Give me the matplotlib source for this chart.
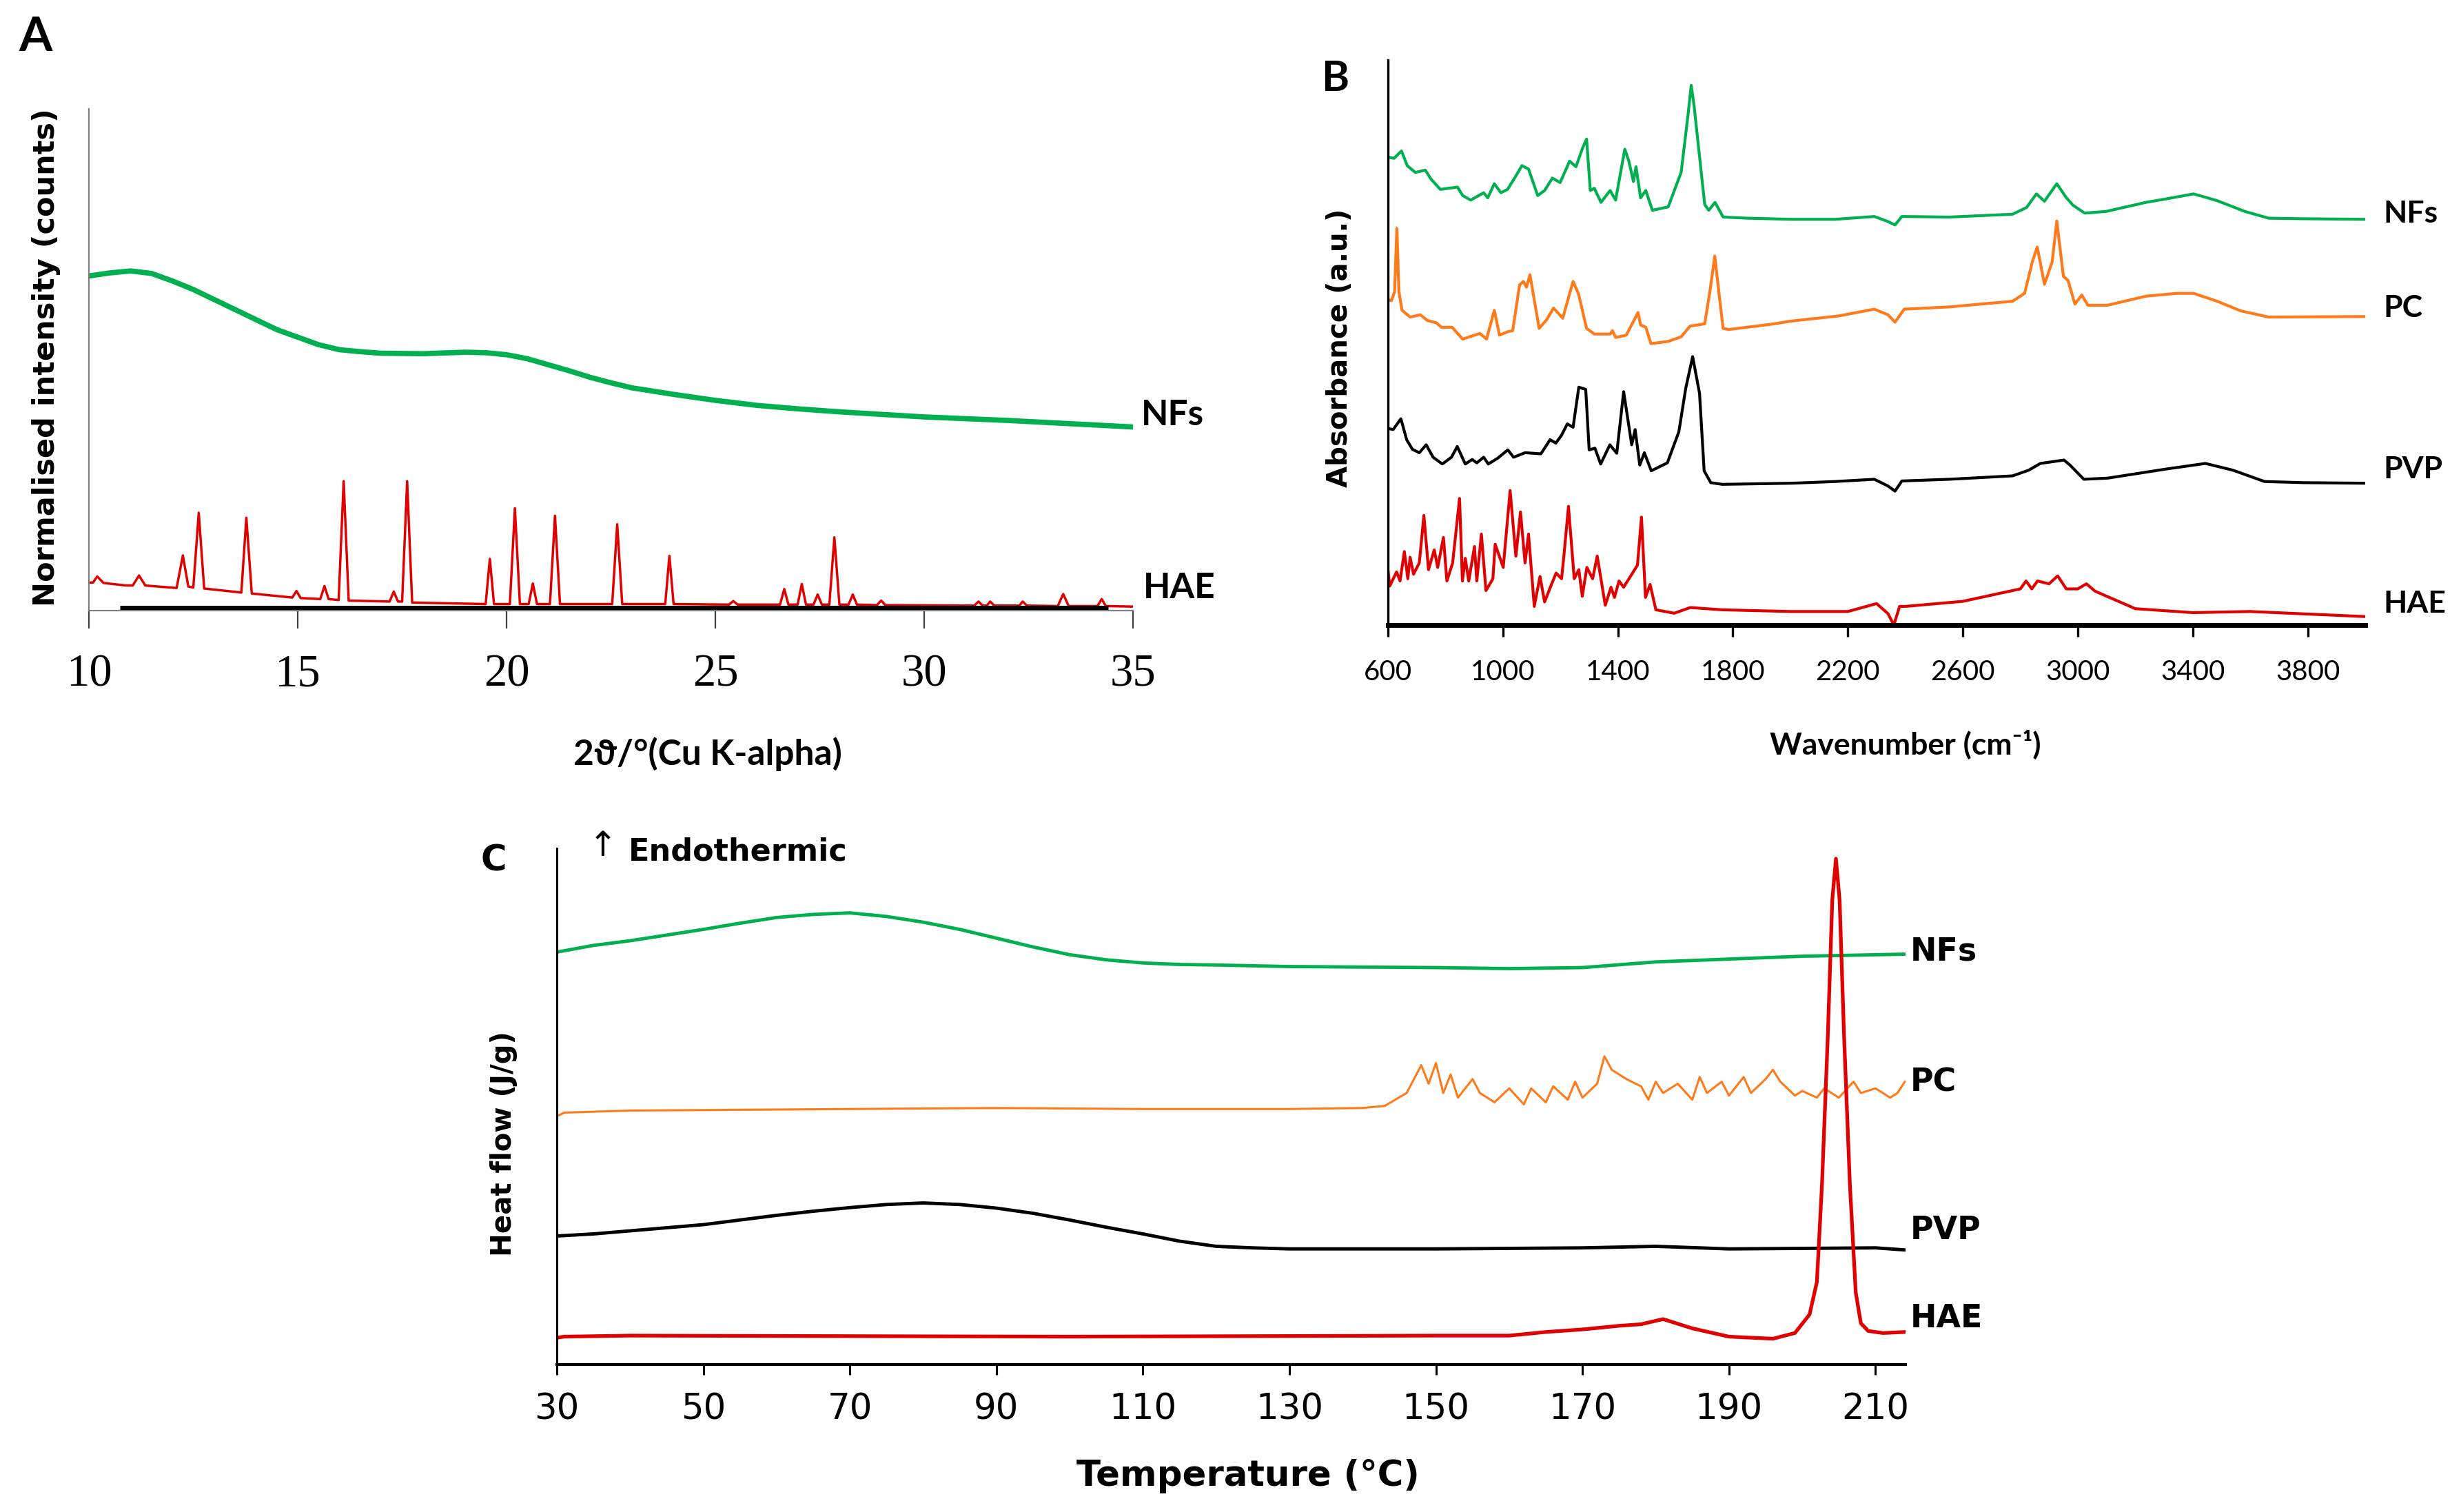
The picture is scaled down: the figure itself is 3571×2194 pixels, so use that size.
"""Three-panel figure: (A) XRD patterns, (B) FTIR spectra, (C) DSC thermograms."""
import matplotlib
matplotlib.use("Agg")
import matplotlib.pyplot as plt
from matplotlib import font_manager as fm

W, H = 3571, 2194

# ── fonts ─────────────────────────────────────────────────────────────────────
_names = {f.name for f in fm.fontManager.ttflist}
NARROW = "Liberation Sans Narrow" if "Liberation Sans Narrow" in _names else "Lato"
SERIF = "Liberation Serif"
LABEL = "DejaVu Sans"

COLORS = {
    "NFs": "#00AF50",
    "PC":  "#FF7A1A",
    "PVP": "#000000",
    "HAE": "#E10000",
}

# ── (A) XRD data: 2theta, normalised intensity (0-100 of axis height) ───────
XRD_NFS = [(10.0, 66.7), (10.5, 67.3), (11.0, 67.7), (11.5, 67.2), (12.0, 65.7),
           (12.5, 64.0), (13.0, 62.0), (13.5, 60.0), (14.0, 58.0), (14.5, 56.0),
           (15.0, 54.5), (15.5, 53.0), (16.0, 52.0), (16.5, 51.6), (17.0, 51.3),
           (18.0, 51.2), (19.0, 51.5), (19.5, 51.4), (20.0, 51.0), (20.5, 50.2),
           (21.0, 49.0), (21.5, 47.8), (22.0, 46.5), (22.5, 45.4), (23.0, 44.4),
           (24.0, 43.1), (25.0, 41.9), (26.0, 40.9), (27.0, 40.2), (28.0, 39.6),
           (30.0, 38.6), (32.0, 37.9), (35.0, 36.6)]

XRD_HAE = [(10.0, 5.6), (10.1, 5.6), (10.2, 6.8), (10.35, 5.5), (10.9, 5.0),
           (11.05, 5.0), (11.2, 7.0), (11.35, 5.0), (12.1, 4.5), (12.25, 11.0),
           (12.38, 4.8), (12.5, 4.6), (12.63, 19.5), (12.76, 4.4), (13.65, 3.6),
           (13.77, 18.5), (13.9, 3.4), (14.87, 2.6), (14.97, 3.9), (15.07, 2.5),
           (15.54, 2.3), (15.64, 4.9), (15.74, 2.3), (15.98, 2.1), (16.1, 25.8),
           (16.22, 2.0), (17.2, 1.8), (17.3, 3.8), (17.4, 1.8), (17.5, 1.8),
           (17.62, 25.8), (17.74, 1.6), (19.5, 1.3), (19.6, 10.3), (19.7, 1.3),
           (20.08, 1.3), (20.2, 20.4), (20.32, 1.3), (20.53, 1.3), (20.63, 5.4),
           (20.73, 1.3), (21.04, 1.3), (21.16, 18.9), (21.28, 1.3), (22.53, 1.3),
           (22.65, 17.2), (22.77, 1.3), (23.8, 1.3), (23.9, 10.9), (24.0, 1.3),
           (25.33, 1.2), (25.43, 1.9), (25.53, 1.2), (26.55, 1.2), (26.65, 4.3),
           (26.75, 1.2), (26.97, 1.2), (27.07, 5.3), (27.17, 1.2), (27.35, 1.2),
           (27.45, 3.2), (27.55, 1.2), (27.73, 1.2), (27.85, 14.6), (27.97, 1.2),
           (28.19, 1.2), (28.29, 3.2), (28.39, 1.2), (28.87, 1.1), (28.97, 2.0),
           (29.07, 1.1), (31.2, 1.0), (31.3, 1.8), (31.4, 1.0), (31.5, 1.0),
           (31.58, 1.8), (31.68, 1.0), (32.28, 1.0), (32.36, 1.8), (32.46, 1.0),
           (33.2, 0.9), (33.33, 3.3), (33.46, 0.9), (34.15, 0.9), (34.25, 2.3),
           (34.35, 0.9), (35.0, 0.8)]

XRD_BAR = [(10.75, 0.6), (34.4, 0.6)]
XRD_TICKS = [10, 15, 20, 25, 30, 35]

# ── (B) FTIR data: wavenumber, absorbance (0-100 of axis height) ────────────
FTIR_NFS = [(600, 82.8), (621, 82.6), (647, 83.9), (667, 81.3), (695, 80.1), (730, 80.5),
            (750, 78.9), (782, 77.1), (842, 77.5), (860, 76.0), (888, 75.2), (933, 76.5),
            (947, 75.6), (970, 78.1), (993, 76.5), (1016, 77.1), (1043, 79.3), (1066, 81.3),
            (1089, 80.7), (1121, 76.0), (1145, 76.9), (1172, 79.1), (1199, 78.3),
            (1232, 82.1), (1254, 81.1), (1277, 84.4), (1291, 86.0), (1304, 76.9),
            (1318, 77.3), (1341, 74.8), (1373, 76.9), (1392, 75.2), (1424, 84.2),
            (1438, 82.1), (1454, 78.5), (1463, 81.1), (1479, 75.6), (1497, 76.9),
            (1520, 73.4), (1575, 74.0), (1620, 80.1), (1644, 90.3), (1655, 95.5),
            (1665, 91.9), (1702, 74.4), (1716, 73.4), (1738, 74.8), (1766, 72.2),
            (1850, 72.0), (2005, 71.8), (2155, 71.8), (2292, 72.3), (2340, 71.4),
            (2364, 70.8), (2388, 72.3), (2553, 72.2), (2773, 72.7), (2822, 73.9),
            (2856, 76.3), (2884, 75.0), (2927, 78.1), (2959, 75.7), (2983, 74.3),
            (3024, 72.9), (3099, 73.2), (3237, 74.8), (3306, 75.4), (3403, 76.3),
            (3485, 75.1), (3581, 73.2), (3664, 72.0), (3787, 71.9), (4000, 71.8)]

FTIR_PC = [(600, 57.6), (612, 57.4), (623, 59.0), (631, 70.2), (638, 59.0), (649, 55.7),
           (677, 54.5), (713, 54.9), (737, 53.9), (768, 53.5), (786, 52.7), (823, 52.7),
           (860, 50.6), (883, 51.0), (920, 51.6), (943, 50.6), (970, 55.7), (988, 51.3),
           (1016, 51.9), (1034, 52.1), (1058, 60.2), (1071, 60.8), (1082, 59.8),
           (1094, 62.0), (1108, 57.8), (1126, 52.5), (1153, 54.1), (1176, 56.1),
           (1208, 54.3), (1244, 60.8), (1263, 58.6), (1291, 52.5), (1318, 51.5),
           (1373, 51.5), (1381, 52.1), (1392, 50.9), (1429, 51.3), (1470, 55.3),
           (1479, 53.1), (1497, 52.7), (1515, 49.8), (1575, 50.2), (1620, 51.0),
           (1651, 52.9), (1702, 53.3), (1720, 59.0), (1737, 65.3), (1752, 58.6),
           (1766, 52.5), (1786, 52.3), (1943, 53.3), (2004, 53.8), (2168, 54.7),
           (2292, 55.9), (2340, 54.9), (2364, 53.6), (2396, 55.9), (2553, 56.3),
           (2773, 57.3), (2815, 58.7), (2842, 64.3), (2859, 66.9), (2884, 60.3),
           (2911, 64.3), (2927, 71.5), (2950, 61.7), (2966, 61.0), (2990, 56.8),
           (3014, 58.4), (3035, 56.6), (3104, 56.6), (3237, 58.2), (3346, 58.7),
           (3403, 58.7), (3485, 57.3), (3567, 55.6), (3664, 54.5), (4000, 54.6)]

FTIR_PVP = [(600, 34.8), (618, 34.6), (645, 36.5), (665, 32.8), (685, 31.1), (709, 30.5),
            (733, 31.9), (757, 29.7), (789, 28.5), (821, 29.7), (841, 31.6), (869, 28.5),
            (893, 29.3), (909, 28.7), (933, 29.7), (949, 28.5), (981, 29.5), (1017, 31.0),
            (1037, 29.7), (1077, 30.5), (1132, 30.3), (1164, 32.8), (1184, 32.2),
            (1204, 33.6), (1224, 35.6), (1244, 35.0), (1264, 42.1), (1288, 41.7),
            (1300, 31.0), (1320, 31.3), (1340, 28.5), (1372, 31.9), (1396, 30.4),
            (1420, 41.3), (1448, 31.9), (1460, 34.6), (1476, 28.3), (1492, 30.5),
            (1516, 27.3), (1572, 28.7), (1612, 34.2), (1636, 41.9), (1660, 47.5),
            (1684, 41.0), (1700, 27.3), (1723, 25.2), (1763, 24.9), (2004, 25.1),
            (2155, 25.4), (2292, 25.8), (2340, 24.6), (2364, 23.7), (2388, 25.5),
            (2553, 25.8), (2773, 26.4), (2829, 27.4), (2870, 28.6), (2911, 28.9),
            (2952, 29.2), (2973, 28.3), (3021, 25.8), (3104, 26.0), (3306, 27.6),
            (3444, 28.6), (3540, 27.4), (3650, 25.4), (3787, 25.2), (4000, 25.1)]

FTIR_HAE = [(600, 9.8), (606, 6.9), (630, 9.4), (642, 7.8), (657, 13.0), (669, 8.2),
            (677, 12.0), (689, 9.0), (709, 11.0), (725, 19.4), (741, 9.8), (761, 13.3),
            (773, 10.2), (793, 15.5), (805, 7.8), (825, 11.0), (849, 22.4), (859, 7.8),
            (869, 11.8), (881, 7.8), (901, 13.9), (909, 7.8), (925, 16.1), (941, 6.1),
            (965, 8.2), (973, 14.3), (1001, 10.2), (1025, 23.8), (1045, 12.2),
            (1061, 20.0), (1077, 11.0), (1089, 16.1), (1109, 3.3), (1129, 8.6),
            (1145, 4.1), (1165, 6.7), (1185, 9.2), (1204, 8.2), (1212, 12.2),
            (1228, 21.0), (1248, 8.2), (1264, 9.8), (1276, 5.1), (1292, 10.2),
            (1312, 8.2), (1328, 12.2), (1356, 3.5), (1376, 6.7), (1388, 4.9),
            (1404, 7.8), (1420, 6.7), (1468, 10.6), (1482, 19.1), (1496, 4.9),
            (1512, 7.2), (1532, 2.7), (1596, 2.1), (1652, 3.1), (1763, 2.7),
            (2000, 2.4), (2200, 2.4), (2300, 3.8), (2340, 2.0), (2360, 0.0),
            (2380, 3.3), (2400, 3.3), (2600, 4.2), (2800, 6.4), (2820, 7.8),
            (2840, 6.4), (2860, 7.8), (2900, 7.3), (2930, 8.7), (2960, 6.4),
            (3000, 6.4), (3030, 7.3), (3060, 6.0), (3200, 2.9), (3400, 2.2),
            (3600, 2.4), (4000, 1.5)]

FTIR_TICKS = [600, 1000, 1400, 1800, 2200, 2600, 3000, 3400, 3800]

# ── (C) DSC data: temperature (°C), heat flow (0-100 of axis height) ─────────
DSC_NFS = [(30, 79.9), (35, 81.2), (40, 82.1), (45, 83.2), (50, 84.3), (55, 85.5),
           (60, 86.6), (65, 87.2), (70, 87.5), (75, 86.8), (80, 85.7), (85, 84.3),
           (90, 82.6), (95, 80.9), (100, 79.4), (105, 78.4), (110, 77.8), (115, 77.5),
           (120, 77.4), (130, 77.1), (150, 76.9), (160, 76.7), (170, 76.9),
           (180, 78.0), (200, 79.1), (214, 79.5)]

DSC_PC = [(30, 48.1), (31, 48.8), (40, 49.2), (70, 49.5), (90, 49.7), (110, 49.5),
          (130, 49.5), (140, 49.7), (143, 50.1), (146, 52.6), (148, 58.0), (149, 54.4),
          (150, 58.4), (151, 52.6), (152, 56.2), (153, 51.7), (155, 55.3), (156, 52.6),
          (158, 50.8), (160, 53.5), (162, 50.4), (163, 53.5), (165, 50.8), (166, 53.9),
          (168, 51.3), (169, 54.8), (170, 51.7), (172, 54.4), (173, 59.7), (174, 57.1),
          (176, 55.3), (178, 53.9), (179, 51.3), (180, 54.8), (181, 52.6), (183, 54.4),
          (185, 51.3), (186, 55.7), (187, 52.6), (189, 54.8), (190, 52.1), (192, 55.7),
          (193, 52.6), (195, 55.3), (196, 57.1), (197, 54.8), (199, 52.1), (200, 53.0),
          (202, 51.7), (203, 53.5), (205, 51.7), (207, 54.8), (208, 52.6), (210, 53.5),
          (212, 51.7), (213, 52.6), (214, 54.8)]

DSC_PVP = [(30, 24.9), (35, 25.3), (40, 25.9), (45, 26.5), (50, 27.1), (55, 28.0),
           (60, 28.9), (65, 29.7), (70, 30.4), (75, 31.0), (80, 31.3), (85, 31.0),
           (90, 30.3), (95, 29.3), (100, 28.0), (105, 26.6), (110, 25.3), (115, 23.9),
           (120, 22.9), (125, 22.6), (130, 22.4), (150, 22.4), (170, 22.6), (180, 22.9),
           (190, 22.4), (210, 22.6), (214, 22.2)]

DSC_HAE = [(30, 5.2), (31, 5.4), (40, 5.6), (100, 5.4), (150, 5.6), (160, 5.6),
           (165, 6.3), (170, 6.8), (175, 7.5), (178, 7.8), (181, 8.8), (185, 7.0),
           (190, 5.4), (196, 5.0), (199, 6.1), (201, 9.7), (202, 16.0), (202.7, 35.0),
           (203.5, 64.0), (204.1, 90.0), (204.6, 98.0), (205.1, 90.0), (205.7, 64.0),
           (206.5, 35.0), (207.3, 14.0), (208, 8.0), (209, 6.5), (211, 6.1), (214, 6.3)]

DSC_TICKS = [30, 50, 70, 90, 110, 130, 150, 170, 190, 210]


def px_axes(fig, left, top, right, bottom):
    """Axes placed by pixel edges of the 3571x2194 canvas."""
    return fig.add_axes([left / W, 1 - bottom / H, (right - left) / W, (bottom - top) / H])


def px_text(fig, x, y, s, **kw):
    kw.setdefault("ha", "center")
    kw.setdefault("va", "center")
    fig.text(x / W, 1 - y / H, s, **kw)


def plot_pts(ax, pts, **kw):
    xs, ys = zip(*pts)
    ax.plot(xs, ys, solid_joinstyle="round", **kw)


def main():
    fig = plt.figure(figsize=(W / 100, H / 100), dpi=100)
    fig.patch.set_facecolor("white")

    # ── panel A ──────────────────────────────────────────────────────────────
    ax = px_axes(fig, 129, 158, 1644, 886)
    plot_pts(ax, XRD_NFS, color=COLORS["NFs"], lw=5.5)
    plot_pts(ax, XRD_HAE, color=COLORS["HAE"], lw=2.5)
    plot_pts(ax, XRD_BAR, color="black", lw=5, solid_capstyle="butt")
    ax.set_xlim(10, 35)
    ax.set_ylim(0, 100)
    for s in ("top", "right"):
        ax.spines[s].set_visible(False)
    for s in ("left", "bottom"):
        ax.spines[s].set_color("#808080")
        ax.spines[s].set_linewidth(1.6)
    ax.set_yticks([])
    ax.set_xticks(XRD_TICKS)
    ax.tick_params(axis="x", direction="out", length=19, width=1.6, color="#404040",
                   pad=26, labelsize=48)
    for t in ax.get_xticklabels():
        t.set_fontfamily(SERIF)

    px_text(fig, 52, 55, "A", family=NARROW, weight="bold", fontsize=50)
    px_text(fig, 67, 519, "Normalised intensity (counts)", family=LABEL,
            weight="bold", fontsize=31, rotation=90)
    px_text(fig, 1027, 1094, "2ϑ/°(Cu K-alpha)", family=[NARROW, "DejaVu Sans"],
            weight="bold", fontsize=37)
    px_text(fig, 1656, 602, "NFs", family=NARROW, weight="bold", fontsize=37, ha="left")
    px_text(fig, 1659, 853, "HAE", family=NARROW, weight="bold", fontsize=37, ha="left")

    # ── panel B ──────────────────────────────────────────────────────────────
    ax = px_axes(fig, 2014, 87, 3432, 907)
    for key, pts in (("NFs", FTIR_NFS), ("PC", FTIR_PC), ("PVP", FTIR_PVP), ("HAE", FTIR_HAE)):
        plot_pts(ax, pts, color=COLORS[key], lw=3.0)
    ax.set_xlim(600, 4000)
    ax.set_ylim(0, 100)
    for s in ("top", "right"):
        ax.spines[s].set_visible(False)
    ax.spines["left"].set_linewidth(2.4)
    ax.spines["bottom"].set_linewidth(5)
    ax.set_yticks([])
    ax.set_xticks(FTIR_TICKS)
    ax.tick_params(axis="x", direction="out", length=12, width=2.4, pad=24, labelsize=29)
    for t in ax.get_xticklabels():
        t.set_fontfamily("Lato")

    px_text(fig, 1937, 114, "B", family="Lato", weight="bold", fontsize=44)
    px_text(fig, 1944, 505, "Absorbance (a.u.)", family=LABEL, weight="bold",
            fontsize=29, rotation=90)
    px_text(fig, 2765, 1080, "Wavenumber (cm⁻¹)", family=["Lato", "DejaVu Sans"],
            weight="bold", fontsize=32)
    for name, y in (("NFs", 310), ("PC", 447), ("PVP", 681), ("HAE", 876)):
        px_text(fig, 3458, y, name, family="Lato", weight="bold", fontsize=32, ha="left")

    # ── panel C ──────────────────────────────────────────────────────────────
    ax = px_axes(fig, 808, 1231, 2765, 1980)
    plot_pts(ax, DSC_NFS, color=COLORS["NFs"], lw=3.5)
    plot_pts(ax, DSC_PC, color=COLORS["PC"], lw=2.2)
    plot_pts(ax, DSC_PVP, color=COLORS["PVP"], lw=3.5)
    plot_pts(ax, DSC_HAE, color=COLORS["HAE"], lw=3.8)
    ax.set_xlim(30, 214.1)
    ax.set_ylim(0, 100)
    for s in ("top", "right"):
        ax.spines[s].set_visible(False)
    ax.spines["left"].set_linewidth(2.2)
    ax.spines["bottom"].set_linewidth(3)
    ax.set_yticks([])
    ax.set_xticks(DSC_TICKS)
    ax.tick_params(axis="x", direction="out", length=11, width=2.2, pad=18, labelsize=37)
    for t in ax.get_xticklabels():
        t.set_fontfamily("DejaVu Sans")

    px_text(fig, 716, 1249, "C", family="DejaVu Sans", weight="bold", fontsize=37)
    px_text(fig, 875, 1228, "↑", family="DejaVu Sans", fontsize=36)
    px_text(fig, 912, 1236, "Endothermic", family="DejaVu Sans", weight="bold",
            fontsize=32, ha="left")
    px_text(fig, 731, 1660, "Heat flow (J/g)", family=LABEL, weight="bold",
            fontsize=29, rotation=90)
    px_text(fig, 1811, 2142, "Temperature (°C)", family=LABEL, weight="bold", fontsize=37)
    for name, y in (("NFs", 1381), ("PC", 1571), ("PVP", 1786), ("HAE", 1913)):
        px_text(fig, 2772, y, name, family="DejaVu Sans", weight="bold", fontsize=33,
                ha="left")

    fig.savefig("out.png", dpi=100)
    plt.close(fig)


if __name__ == "__main__":
    main()
